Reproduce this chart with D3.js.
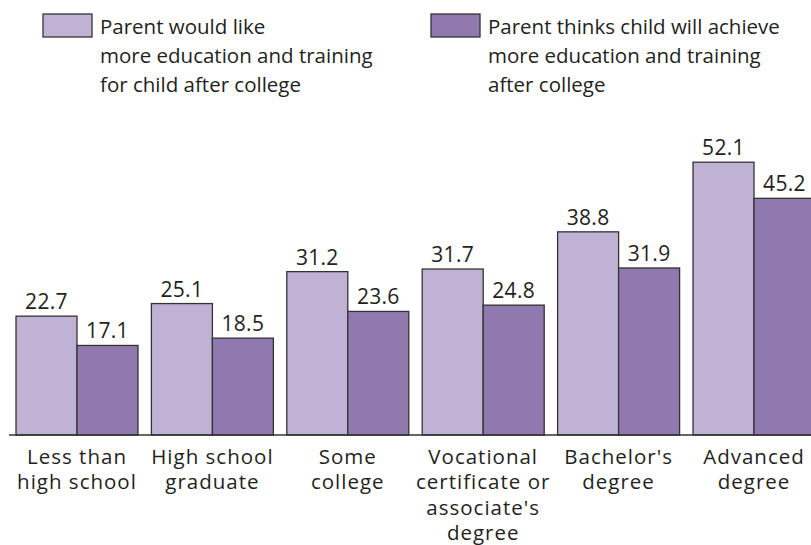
<!DOCTYPE html>
<html>
<head>
<meta charset="utf-8">
<script src="https://cdn.jsdelivr.net/npm/d3@7"></script>
<style>
  body { margin: 0; background: #fff; }
  svg text { font-family: "Open Sans", sans-serif; fill: #231f20; }
</style>
</head>
<body>
<div id="chart"></div>
<script>
// categories (multi-line labels)
var categories = [
  ["Less than", "high school"],
  ["High school", "graduate"],
  ["Some", "college"],
  ["Vocational", "certificate or", "associate's", "degree"],
  ["Bachelor's", "degree"],
  ["Advanced", "degree"]
];

// series values
var wouldLike = [22.7, 25.1, 31.2, 31.7, 38.8, 52.1];
var thinksWill = [17.1, 18.5, 23.6, 24.8, 31.9, 45.2];

// legend labels
var legendLabels = [
  ["Parent would like", "more education and training", "for child after college"],
  ["Parent thinks child will achieve", "more education and training", "after college"]
];
var colors = ["#c0b2d4", "#8f79ae"];

var width = 811, height = 545;
var baseline = 435;

var svg = d3.select("#chart").append("svg")
  .attr("width", width)
  .attr("height", height);

//y scale
var yScale = d3.scaleLinear()
  .domain([0, 60])
  .range([baseline, baseline - 60 * 5.236]);

//x scale for groups
var xScale = d3.scaleBand()
  .domain(d3.range(categories.length))
  .range([16, 16 + 6 * 135.4 - 13.4])
  .paddingInner(0.099)
  .paddingOuter(0);

var xSub = d3.scaleBand()
  .domain([0, 1])
  .range([0, xScale.bandwidth()]);

var data = categories.map(function(c, i){
  return { i: i, values: [wouldLike[i], thinksWill[i]] };
});

var groups = svg.selectAll("g.group")
  .data(data)
  .enter()
  .append("g")
    .attr("class", "group")
    .attr("transform", function(d){ return "translate(" + xScale(d.i) + ",0)"; });

groups.selectAll("rect")
  .data(function(d){ return d.values; })
  .enter()
  .append("rect")
    .attr("x", function(d, j){ return xSub(j); })
    .attr("y", function(d){ return yScale(d); })
    .attr("width", xSub.bandwidth())
    .attr("height", function(d){ return baseline - yScale(d); })
    .attr("fill", function(d, j){ return colors[j]; })
    .attr("stroke", "#333")
    .attr("stroke-width", 1.3);

//value labels
groups.selectAll("text.val")
  .data(function(d){ return d.values; })
  .enter()
  .append("text")
    .attr("class", "val")
    .attr("x", function(d, j){ return xSub(j) + xSub.bandwidth() / 2; })
    .attr("y", function(d){ return yScale(d) - 7; })
    .attr("text-anchor", "middle")
    .style("font-size", "21px")
    .style("letter-spacing", "0.3px")
    .text(function(d){ return d.toFixed(1); });

//axis line
var xAxis = d3.axisBottom(xScale).tickSize(0).tickFormat("");
svg.append("g")
  .attr("transform", "translate(0," + baseline + ")")
  .call(xAxis)
  .call(function(g){
    g.select(".domain").attr("d", "M9,0H811").attr("stroke", "#333").attr("stroke-width", 1.5);
  });

//category labels
var catLabels = svg.selectAll("text.cat")
  .data(data)
  .enter()
  .append("text")
    .attr("class", "cat")
    .attr("text-anchor", "middle")
    .style("font-size", "20.5px")
    .style("letter-spacing", "1px")
    .attr("x", function(d){ return xScale(d.i) + xScale.bandwidth() / 2; })
    .attr("y", 464);

catLabels.selectAll("tspan")
  .data(function(d){ return categories[d.i]; })
  .enter()
  .append("tspan")
    .attr("x", function(){ return this.parentNode.getAttribute("x"); })
    .attr("dy", function(d, k){ return k == 0 ? 0 : 25.4; })
    .text(function(d){ return d; });

//legend
var legendX = [43, 431];
var legend = svg.selectAll("g.legend")
  .data(legendLabels)
  .enter()
  .append("g")
    .attr("class", "legend")
    .attr("transform", function(d, i){ return "translate(" + legendX[i] + ",14)"; });

legend.append("rect")
  .attr("width", 49)
  .attr("height", 23)
  .attr("fill", function(d, i){ return colors[i]; })
  .attr("stroke", "#333")
  .attr("stroke-width", 1.3);

legend.append("text")
  .style("font-size", "20.5px")
  .attr("y", 20)
  .selectAll("tspan")
  .data(function(d){ return d; })
  .enter()
  .append("tspan")
    .attr("x", 57)
    .attr("dy", function(d, k){ return k == 0 ? 0 : 29; })
    .text(function(d){ return d; });
</script>
</body>
</html>
